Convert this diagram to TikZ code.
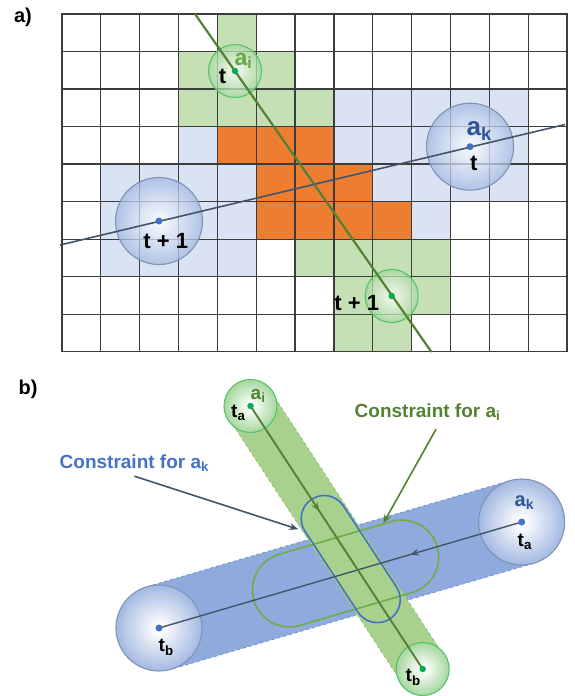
\documentclass[tikz,border=0pt]{standalone}
\usepackage{fontspec}
\setmainfont{Liberation Sans}
\usetikzlibrary{calc,arrows.meta,decorations.markings,shapes.misc}

\definecolor{gridc}{HTML}{3C3C3C}
\definecolor{cellG}{HTML}{C5E0B4}
\definecolor{cellB}{HTML}{DAE3F3}
\definecolor{cellO}{HTML}{ED7D31}
\definecolor{lineG}{HTML}{548235}
\definecolor{lineB}{HTML}{44546A}
\definecolor{ringG}{HTML}{55C36A}
\definecolor{ringB}{HTML}{8093B3}
\definecolor{dotG}{HTML}{00B050}
\definecolor{dotB}{HTML}{4472C4}
\definecolor{txtG}{HTML}{62A844}
\definecolor{txtB}{HTML}{2F5597}
\definecolor{bandB}{HTML}{8FAADC}
\definecolor{bandG}{HTML}{A9D18E}
\definecolor{edgeB}{HTML}{6A8CCB}
\definecolor{edgeG}{HTML}{86BF68}
\definecolor{ballG}{HTML}{A6D79E}
\definecolor{ballB}{HTML}{A3B9E2}
\definecolor{conB}{HTML}{4472C4}
\definecolor{conG}{HTML}{70AD47}
\definecolor{conTG}{HTML}{548235}

\pgfdeclareradialshading{gball}{\pgfpoint{0bp}{0bp}}{color(0bp)=(white); color(2bp)=(white); color(25bp)=(ballG); color(50bp)=(ballG)}
\pgfdeclareradialshading{bball}{\pgfpoint{0bp}{0bp}}{color(0bp)=(white); color(2bp)=(white); color(25bp)=(ballB); color(50bp)=(ballB)}

\begin{document}
\begin{tikzpicture}[x=1pt,y=-1pt,
  gridline/.style={draw=gridc, line width=1.2pt, line cap=rect},
  ballGa/.style={circle, draw=ringG, line width=1.1pt, shade, shading=gball, fill opacity=0.75, draw opacity=1, minimum size=53pt, inner sep=0pt},
  ballBa/.style={circle, draw=ringB, line width=1.1pt, shade, shading=bball, fill opacity=0.75, draw opacity=1, minimum size=87pt, inner sep=0pt},
  ballGb/.style={circle, draw=ringG, line width=1.1pt, shade, shading=gball, minimum size=53pt, inner sep=0pt},
  ballBb/.style={circle, draw=ringB, line width=1.1pt, shade, shading=bball, minimum size=86pt, inner sep=0pt},
  dotg/.style={circle, fill=dotG, inner sep=0pt, minimum size=6.5pt},
  dotb/.style={circle, fill=dotB, inner sep=0pt, minimum size=7pt},
  lblt/.style={inner sep=0pt, anchor=base, font=\fontsize{22}{26}\selectfont\bfseries},
  lblai/.style={inner sep=0pt, anchor=base west, text=txtG, font=\fontsize{23}{27}\selectfont\bfseries},
  lblak/.style={inner sep=0pt, anchor=base west, text=txtB, font=\fontsize{26}{30}\selectfont\bfseries},
  lblb/.style={inner sep=0pt, anchor=base west, font=\fontsize{19}{23}\selectfont\bfseries},
  panel/.style={inner sep=0pt, font=\fontsize{20}{24}\selectfont\bfseries},
  conlabel/.style={inner sep=0pt, anchor=base west, font=\fontsize{19}{23}\selectfont\bfseries},
  stadB/.style={rounded rectangle, draw=conB, line width=1.6pt, minimum width=143pt, minimum height=46pt, inner sep=0pt, sloped},
  stadG/.style={rounded rectangle, draw=conG, line width=1.6pt, minimum width=191pt, minimum height=74pt, inner sep=0pt, sloped},
  mtip/.style={decoration={markings, mark=at position #1 with {\arrow{Stealth[length=9pt,width=7pt]}}}, postaction={decorate}}
]
\useasboundingbox (0,0) rectangle (575,696);

% ---------------- panel a ----------------
\node[panel] (pa) at (23,17) {a)};
\begin{scope}[shift={(62,14)}, x=38.846pt, y=-37.52pt]
  \foreach \c/\r in {4/0,3/1,4/1,5/1,3/2,4/2,5/2,6/2,6/6,7/6,8/6,9/6,7/7,8/7,9/7,7/8,8/8}
    \fill[cellG] (\c,\r) rectangle ++(1,1);
  \foreach \c/\r in {7/2,8/2,9/2,10/2,11/2,3/3,7/3,8/3,9/3,10/3,11/3,1/4,2/4,3/4,4/4,8/4,9/4,10/4,11/4,1/5,2/5,3/5,4/5,9/5,1/6,2/6,3/6,4/6}
    \fill[cellB] (\c,\r) rectangle ++(1,1);
  \foreach \c/\r in {4/3,5/3,6/3,5/4,6/4,7/4,5/5,6/5,7/5,8/5}
    \fill[cellO] (\c,\r) rectangle ++(1,1);
  \foreach \i in {0,...,13} \draw[gridline] (\i,0) -- (\i,9);
  \foreach \j in {0,...,9} \draw[gridline] (0,\j) -- (13,\j);
\end{scope}

\node[ballGa] (ai1) at (235,71) {};
\node[ballGa] (ai2) at (391.7,296) {};
\node[ballBa] (ak1) at (470,146.7) {};
\node[ballBa] (ak2) at (159,221) {};

\coordinate (bS) at (60,245);
\coordinate (bE) at (565,124.5);
\coordinate (gS) at (195,14);
\coordinate (gE) at (431.5,352);
\draw[lineB, line width=1.6pt] (bS) -- (bE);
\draw[lineG, line width=2.2pt] (gS) -- (gE);

\node[dotg] (ai1d) at (ai1.center) {};
\node[dotg] (ai2d) at (ai2.center) {};
\node[dotb] (ak1d) at (ak1.center) {};
\node[dotb] (ak2d) at (ak2.center) {};

\node[lblai] (ai1l) at (234.5,65) {a\textsubscript{i}};
\node[lblt] (ai1t) at (222.5,83.3) {t};
\node[lblt] (ai2t) at (356.7,310) {t + 1};
\node[lblak] (ak1l) at (466.5,135.5) {a\textsubscript{k}};
\node[lblt] (ak1t) at (473.7,170.5) {t};
\node[lblt] (ak2t) at (165.8,248.3) {t + 1};

% ---------------- panel b ----------------
\node[panel] (pb) at (28,389) {b)};

\coordinate (pgT) at (250.5,406);
\coordinate (pgB) at (422.7,669);
\coordinate (pkR) at (521.7,522);
\coordinate (pkL) at (159,628);

% blue band
\fill[bandB] ($(pkR)!43pt!90:(pkL)$) -- ($(pkL)!43pt!-90:(pkR)$) -- ($(pkL)!43pt!90:(pkR)$) -- ($(pkR)!43pt!-90:(pkL)$) -- cycle;
\draw[edgeB, line width=0.7pt, dashed] ($(pkR)!43pt!90:(pkL)$) -- ($(pkL)!43pt!-90:(pkR)$);
\draw[edgeB, line width=0.7pt, dashed] ($(pkL)!43pt!90:(pkR)$) -- ($(pkR)!43pt!-90:(pkL)$);
% green band
\fill[bandG] ($(pgT)!25pt!90:(pgB)$) -- ($(pgB)!25pt!-90:(pgT)$) -- ($(pgB)!25pt!90:(pgT)$) -- ($(pgT)!25pt!-90:(pgB)$) -- cycle;
\draw[edgeG, line width=0.7pt, dashed] ($(pgT)!25pt!90:(pgB)$) -- ($(pgB)!25pt!-90:(pgT)$);
\draw[edgeG, line width=0.7pt, dashed] ($(pgB)!25pt!90:(pgT)$) -- ($(pgT)!25pt!-90:(pgB)$);

% constraint regions
\path (pkR) -- (pkL) node[stadG, pos=0.4856] (acon) {};
\path (pgT) -- (pgB) node[stadB, pos=0.582] (kcon) {};

% circles
\node[ballGb] (gT) at (pgT) {};
\node[ballGb] (gB) at (pgB) {};
\node[ballBb] (kR) at (pkR) {};
\node[ballBb] (kL) at (pkL) {};

% paths
\draw[lineB, line width=1.4pt, mtip=0.308] (kR.center) -- (kL.center);
\draw[lineG, line width=1.9pt, mtip=0.4] (gT.center) -- (gB.center);

\node[dotg] (gTd) at (gT.center) {};
\node[dotg] (gBd) at (gB.center) {};
\node[dotb] (kRd) at (kR.center) {};
\node[dotb] (kLd) at (kL.center) {};

\node[lblb] (gTa) at (231,417.7) {t\textsubscript{a}};
\node[lblb, text=conTG] (gTl) at (250.5,399.3) {a\textsubscript{i}};
\node[lblb] (gBb) at (405.5,681.7) {t\textsubscript{b}};
\node[lblb, text=txtB, font=\fontsize{20}{24}\selectfont\bfseries] (kRl) at (514.5,506) {a\textsubscript{k}};
\node[lblb] (kRa) at (517.5,546.5) {t\textsubscript{a}};
\node[lblb] (kLb) at (158.5,651.5) {t\textsubscript{b}};

% annotations
\node[conlabel, text=conB] (klab) at (59.5,468.3) {Constraint for a\textsubscript{k}};
\node[conlabel, text=conTG] (alab) at (354.5,417.3) {Constraint for a\textsubscript{i}};
\coordinate (kArrE) at (298.3,529.3);
\coordinate (aArrE) at (383.3,523.3);
\draw[lineB, line width=1.6pt, -{Stealth[length=9pt,width=7pt]}] ($(klab.south)+(0,4)$) -- (kArrE);
\draw[conTG, line width=1.6pt, -{Stealth[length=9pt,width=7pt]}] ($(alab.south)+(8.5,8)$) -- (aArrE);
\end{tikzpicture}
\end{document}
